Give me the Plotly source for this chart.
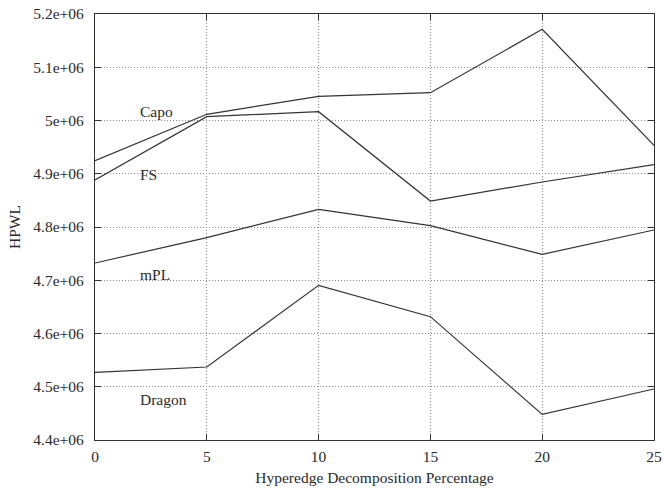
import plotly.graph_objects as go

x_vals = [0, 5, 10, 15, 20, 25]
capo = [4.9245e6, 5.0116e6, 5.0454e6, 5.0523e6, 5.1712e6, 4.9533e6]
fs = [4.8883e6, 5.0072e6, 5.0166e6, 4.8488e6, 4.8845e6, 4.9171e6]
mpl = [4.7324e6, 4.7800e6, 4.8332e6, 4.8025e6, 4.7487e6, 4.7944e6]
dragon = [4.5271e6, 4.5371e6, 4.6905e6, 4.6316e6, 4.4482e6, 4.4958e6]
series_names = ["Capo", "FS", "mPL", "Dragon"]
label_y = [5.016e6, 4.898e6, 4.710e6, 4.477e6]
label_x = 2.0

y_tickvals = [4.4e6, 4.5e6, 4.6e6, 4.7e6, 4.8e6, 4.9e6, 5.0e6, 5.1e6, 5.2e6]
y_ticktext = ["4.4e+06", "4.5e+06", "4.6e+06", "4.7e+06", "4.8e+06", "4.9e+06", "5e+06", "5.1e+06", "5.2e+06"]
x_tickvals = [0, 5, 10, 15, 20, 25]

FONT = "Liberation Serif"
FS_ = 15.5
TXT = "#2a2a2a"

fig = go.Figure()
for name, ys in zip(series_names, [capo, fs, mpl, dragon]):
    fig.add_trace(go.Scatter(x=x_vals, y=ys, mode="lines", name=name,
                             line=dict(color="#333333", width=1.2), showlegend=False))

for name, ly in zip(series_names, label_y):
    fig.add_annotation(x=label_x, y=ly, text=name, showarrow=False, xanchor="left",
                       yanchor="middle", xshift=-2, font=dict(family=FONT, size=FS_, color=TXT))

# y-axis title as rotated annotation for precise placement
fig.add_annotation(x=0, y=0.5, xref="paper", yref="paper", text="HPWL", textangle=-90,
                   showarrow=False, xanchor="center", yanchor="middle", xshift=-81,
                   font=dict(family=FONT, size=FS_, color=TXT))

axis_common = dict(showline=True, linecolor="#333333", linewidth=1.2, mirror="ticks",
                   ticks="inside", ticklen=6, tickcolor="#333333", tickwidth=1.2,
                   showgrid=True, gridcolor="#8a8a8a", griddash="1px,2px", gridwidth=1,
                   zeroline=False, automargin=False,
                   tickfont=dict(family=FONT, size=FS_, color=TXT))

fig.update_xaxes(range=[0, 25], tickvals=x_tickvals, ticklabelstandoff=2,
                 title=dict(text="Hyperedge Decomposition Percentage",
                            font=dict(family=FONT, size=FS_, color=TXT), standoff=8),
                 **axis_common)
fig.update_yaxes(range=[4.4e6, 5.2e6], tickvals=y_tickvals, ticktext=y_ticktext,
                 ticklabelstandoff=7, **axis_common)

fig.update_layout(width=664, height=492, margin=dict(l=95, r=10, t=14, b=52),
                  plot_bgcolor="white", paper_bgcolor="white")

fig.write_html("out.html")
